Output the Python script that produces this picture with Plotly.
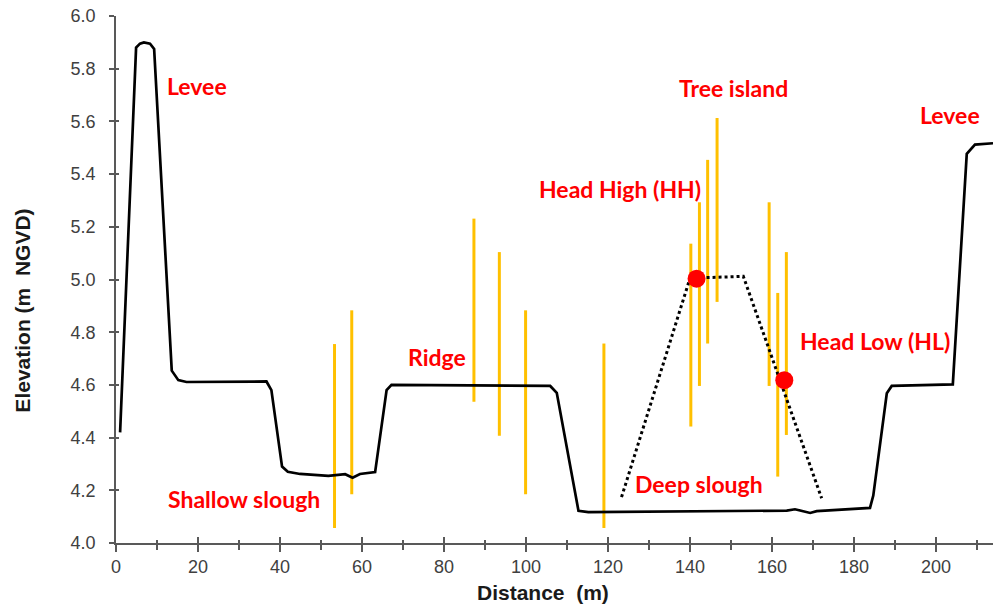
import plotly.graph_objects as go

# Ground profile (distance m, elevation m NGVD)
profile_x = [1.0, 4.9, 5.85, 6.8, 8.3, 9.3, 13.6, 15.2, 17.2, 36.7, 37.9, 40.5, 41.9, 44.9,
             51.8, 55.9, 57.7, 59.5, 63.2, 66.0, 67.2, 105.9, 107.5, 112.8, 115.2, 163.6,
             165.6, 169.3, 170.9, 183.9, 184.7, 188.0, 189.2, 204.1, 207.5, 209.5, 213.9]
profile_y = [4.42, 5.88, 5.895, 5.90, 5.895, 5.875, 4.654, 4.618, 4.611, 4.613, 4.58, 4.29,
             4.27, 4.262, 4.255, 4.261, 4.248, 4.262, 4.269, 4.58, 4.60, 4.596, 4.57, 4.122,
             4.117, 4.123, 4.128, 4.114, 4.121, 4.133, 4.18, 4.568, 4.596, 4.602, 5.477,
             5.512, 5.517]

# Yellow vertical ranges
bar_x = [53.3, 57.5, 87.3, 93.5, 99.9, 119.0, 140.2, 142.3, 144.3, 146.6, 159.3, 161.4, 163.5]
bar_low = [4.057, 4.185, 4.536, 4.407, 4.185, 4.057, 4.442, 4.596, 4.757, 4.915, 4.596, 4.252, 4.41]
bar_high = [4.755, 4.883, 5.231, 5.104, 4.883, 4.757, 5.136, 5.293, 5.454, 5.613, 5.293, 4.949, 5.104]

# Tree island outline (dotted)
island_x = [123.3, 140.0, 153.0, 172.1]
island_y = [4.174, 5.005, 5.012, 4.17]

# Head points
head_x = [141.6, 163.0]
head_y = [5.003, 4.618]

x_ticks = [0, 20, 40, 60, 80, 100, 120, 140, 160, 180, 200]
y_ticks = [4.0, 4.2, 4.4, 4.6, 4.8, 5.0, 5.2, 5.4, 5.6, 5.8, 6.0]

labels = ["Levee", "Shallow slough", "Ridge", "Deep slough", "Head High (HH)",
          "Tree island", "Levee", "Head Low (HL)"]

label_pos = [(19.8, 5.733), (31.2, 4.168), (78.2, 4.707), (142.1, 4.225),
             (122.9, 5.342), (150.6, 5.725), (203.5, 5.626), (185.2, 4.768)]

X_RANGE = [0, 213.9]
Y_RANGE = [4.0, 6.0]

seg_x, seg_y = [], []
for bx, lo, hi in zip(bar_x, bar_low, bar_high):
    seg_x += [bx, bx, None]
    seg_y += [lo, hi, None]

fig = go.Figure()
fig.add_trace(go.Scatter(x=seg_x, y=seg_y, mode="lines",
                         line=dict(color="#FFC000", width=3), hoverinfo="skip"))
fig.add_trace(go.Scatter(x=profile_x, y=profile_y, mode="lines",
                         line=dict(color="black", width=2.7)))
fig.add_trace(go.Scatter(x=island_x, y=island_y, mode="lines",
                         line=dict(color="black", width=3, dash="dot")))
fig.add_trace(go.Scatter(x=head_x, y=head_y, mode="markers",
                         marker=dict(color="#FF0000", size=18, line=dict(width=0))))
# invisible trace for overlay axes (crossing ticks)
fig.add_trace(go.Scatter(x=[None], y=[None], xaxis="x2", yaxis="y2", mode="lines",
                         showlegend=False, hoverinfo="skip"))

tickfont = dict(family="Liberation Sans, Arial", size=18, color="#404040")
axis_col = "#595959"

fig.update_layout(
    width=993, height=609,
    margin=dict(l=116, r=0, t=16, b=66),
    plot_bgcolor="white", paper_bgcolor="white",
    showlegend=False,
    xaxis=dict(range=X_RANGE, tickvals=x_ticks, ticks="outside", ticklen=7,
               tickwidth=1.5, tickcolor=axis_col, showline=True, linecolor=axis_col,
               linewidth=1.5, showgrid=False, zeroline=False, tickfont=tickfont,
               minor=dict(dtick=10, tick0=0, ticks="outside", ticklen=5,
                          tickwidth=1.5, tickcolor=axis_col, showgrid=False)),
    yaxis=dict(range=Y_RANGE, tickvals=y_ticks, tickformat=".1f", ticks="outside",
               ticklen=5, tickwidth=1.5, tickcolor=axis_col, showline=True,
               linecolor=axis_col, linewidth=1.5, showgrid=False, zeroline=False,
               tickfont=tickfont, ticklabelstandoff=10),
    xaxis2=dict(range=X_RANGE, overlaying="x", tickvals=x_ticks, ticks="inside",
                ticklen=6, tickwidth=1.5, tickcolor=axis_col, showticklabels=False,
                showgrid=False, zeroline=False, showline=False,
                minor=dict(dtick=10, tick0=0, ticks="inside", ticklen=3,
                           tickwidth=1.5, tickcolor=axis_col, showgrid=False)),
    yaxis2=dict(range=Y_RANGE, overlaying="y", tickvals=y_ticks, ticks="inside",
                ticklen=3, tickwidth=1.5, tickcolor=axis_col, showticklabels=False,
                showgrid=False, zeroline=False, showline=False),
)

annotations = []
for txt, (ax_, ay_) in zip(labels, label_pos):
    annotations.append(dict(x=ax_, y=ay_, xref="x", yref="y", text=txt, showarrow=False,
                            xanchor="center", yanchor="middle",
                            font=dict(family="Lato", size=23, color="#FF0000",
                                      weight="bold")))
annotations.append(dict(x=0.487, y=-0.094, xref="paper", yref="paper",
                        text="<b>Distance  (m)</b>", showarrow=False,
                        xanchor="center", yanchor="middle",
                        font=dict(family="Liberation Sans, Arial", size=21, color="#1a1a1a")))
annotations.append(dict(x=-0.106, y=0.441, xref="paper", yref="paper",
                        text="<b>Elevation (m  NGVD)</b>", showarrow=False, textangle=-90,
                        xanchor="center", yanchor="middle",
                        font=dict(family="Liberation Sans, Arial", size=21, color="#1a1a1a")))
fig.update_layout(annotations=annotations)

fig.write_html("out.html", config={"displayModeBar": False},
               post_script="document.body.style.margin='0';document.body.style.overflow='hidden';")
